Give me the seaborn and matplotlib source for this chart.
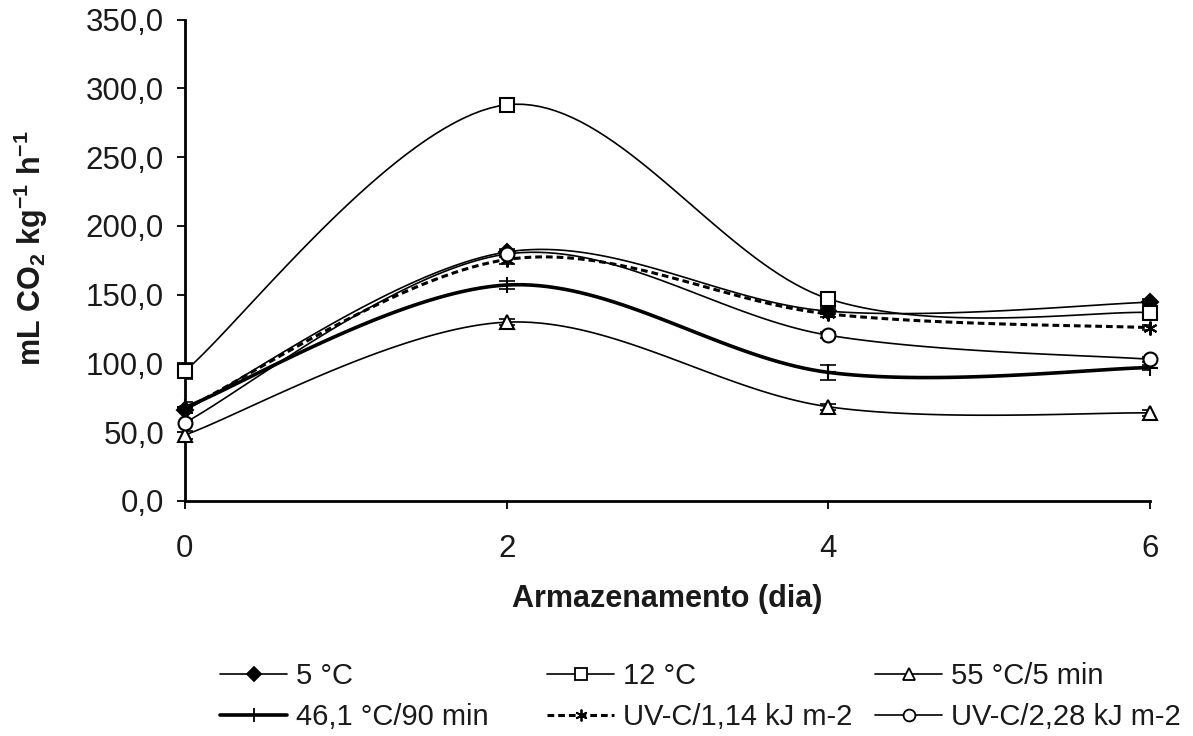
import numpy as np
import pandas as pd
import matplotlib
matplotlib.use("Agg")
import matplotlib.pyplot as plt
import seaborn as sns

# Storage days and respiration rate (mL CO2 kg-1 h-1) per treatment
dias = [0, 2, 4, 6]
trat_5c = [66.0, 181.0, 138.0, 144.5]
trat_12c = [94.5, 288.0, 147.0, 137.0]
trat_55c = [48.0, 130.0, 68.5, 64.0]
trat_46c = [68.0, 157.0, 93.5, 97.0]
trat_uv114 = [67.0, 175.5, 136.0, 126.0]
trat_uv228 = [57.0, 179.5, 120.5, 103.0]

# Standard errors
err_5c = [2.0, 2.0, 2.0, 2.0]
err_12c = [6.0, 2.0, 2.0, 3.0]
err_55c = [3.0, 2.0, 2.0, 2.0]
err_46c = [4.0, 3.0, 5.5, 2.0]
err_uv114 = [3.0, 3.0, 2.0, 2.0]
err_uv228 = [2.0, 2.0, 2.0, 2.0]

labels = ["5 °C", "12 °C", "55 °C/5 min", "46,1 °C/90 min",
          "UV-C/1,14 kJ m-2", "UV-C/2,28 kJ m-2"]

sns.set_theme(style="white")
plt.rcParams["font.family"] = ["Liberation Sans", "DejaVu Sans"]
plt.rcParams["mathtext.fontset"] = "custom"
plt.rcParams["mathtext.rm"] = "Liberation Sans"
plt.rcParams["mathtext.bf"] = "Liberation Sans:bold"

TXT = "#1a1a1a"


def smooth(x, y, n=40):
    """Cubic Bezier smoothing through every point (Catmull-Rom style)."""
    p = np.column_stack([x, y]).astype(float)
    pts = np.vstack([p[0], p, p[-1]])
    out = []
    ts = np.linspace(0, 1, n)
    nseg = len(p) - 1
    for k in range(nseg):
        p0, p1, p2, p3 = pts[k], pts[k + 1], pts[k + 2], pts[k + 3]
        c1 = p1 + (p2 - p0) / 6.0
        c2 = p2 - (p3 - p1) / 6.0
        for t in (ts if k == nseg - 1 else ts[:-1]):
            b = ((1 - t) ** 3) * p1 + 3 * ((1 - t) ** 2) * t * c1 \
                + 3 * (1 - t) * t ** 2 * c2 + t ** 3 * p2
            out.append(b)
    out = np.array(out)
    return out[:, 0], out[:, 1]


# drawn in series order, later series on top
series = [
    (trat_5c, err_5c, labels[0], dict(marker="D", mfc="black", ms=8, lw=1.2, ls="-")),
    (trat_12c, err_12c, labels[1], dict(marker="s", mfc="white", ms=9.5, lw=1.2, ls="-")),
    (trat_55c, err_55c, labels[2], dict(marker="^", mfc="white", ms=9.5, lw=1.2, ls="-")),
    (trat_46c, err_46c, labels[3], dict(marker="+", mfc="black", ms=12, lw=2.6, ls="-")),
    (trat_uv114, err_uv114, labels[4], dict(marker=(6, 2, 0), mfc="black", ms=10, lw=2.2, ls=(0, (2.2, 1.3)))),
    (trat_uv228, err_uv228, labels[5], dict(marker="o", mfc="white", ms=10, lw=1.2, ls="-")),
]

fig = plt.figure(figsize=(11.93, 7.36), dpi=100)
ax = fig.add_axes([0.155, 0.3193, 0.809, 0.6542])

handles = {}
for z, (vals, errs, lab, st) in enumerate(series):
    xs, ys = smooth(dias, vals)
    df = pd.DataFrame({"x": xs, "y": ys})
    sns.lineplot(data=df, x="x", y="y", ax=ax, color="black", lw=st["lw"],
                 linestyle=st["ls"], sort=False, estimator=None, zorder=2 + z * 0.1)
    ax.errorbar(dias, vals, yerr=errs, fmt="none", ecolor="black",
                elinewidth=1.2, capsize=6, capthick=1.2, zorder=3 + z * 0.1)
    ax.plot(dias, vals, ls="none", marker=st["marker"], ms=st["ms"],
            mfc=st["mfc"], mec="black", mew=1.5, zorder=4 + z * 0.1, clip_on=False)
    handles[lab] = plt.Line2D([], [], color="black", lw=st["lw"],
                              linestyle=st["ls"], marker=st["marker"],
                              ms=st["ms"] * 0.85, mfc=st["mfc"],
                              mec="black", mew=1.3)

ax.set_xlim(0, 6)
ax.set_ylim(0, 350)
ax.set_xticks([0, 2, 4, 6])
ax.set_yticks(np.arange(0, 351, 50))
ax.set_yticklabels([f"{v:.1f}".replace(".", ",") for v in np.arange(0, 351, 50)])

for s in ["top", "right"]:
    ax.spines[s].set_visible(False)
for s in ["left", "bottom"]:
    ax.spines[s].set_color("black")
    ax.spines[s].set_linewidth(2.0)

ax.tick_params(axis="both", which="major", direction="out", length=6, width=1.3,
               color="black", labelsize=22.5, labelcolor=TXT,
               left=True, bottom=True)
ax.tick_params(axis="y", pad=9)
ax.tick_params(axis="x", pad=18)

ax.set_xlabel("Armazenamento (dia)", fontsize=22, fontweight="bold",
              color=TXT, labelpad=14)
ax.set_ylabel(r"mL CO$_\mathbf{2}$ kg$^\mathbf{-1}$ h$^\mathbf{-1}$",
              fontsize=22, fontweight="bold", color=TXT)
ax.yaxis.set_label_coords(-0.14, 0.525)
ax.grid(False)

# three legend columns placed at fixed positions
columns = [(labels[0], labels[3]), (labels[1], labels[4]), (labels[2], labels[5])]
col_x = [220, 547, 875]
W, H = 1193, 736
for xpx, labs in zip(col_x, columns):
    fig.legend([handles[k] for k in labs], list(labs), loc="upper left",
               bbox_to_anchor=(xpx / W, 1 - 662 / H), ncol=1, frameon=False,
               fontsize=21, handlelength=2.3, handletextpad=0.3,
               labelspacing=0.45, borderpad=0, borderaxespad=0,
               labelcolor=TXT)

fig.savefig("out.png", dpi=100, facecolor="white")
